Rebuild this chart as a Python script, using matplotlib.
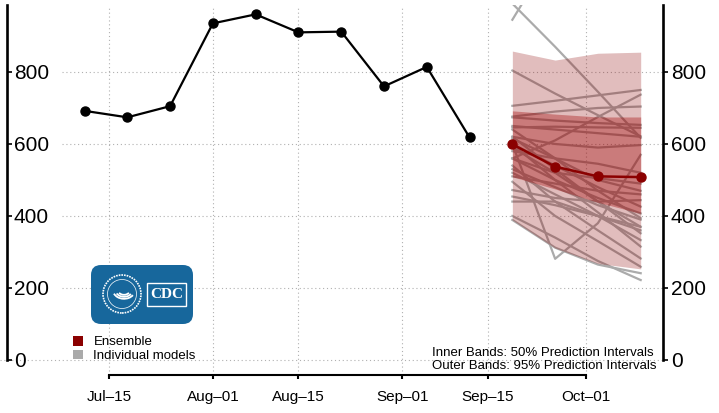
import matplotlib
matplotlib.use('Agg')
import matplotlib.pyplot as plt
import matplotlib.dates as mdates
from matplotlib.patches import FancyBboxPatch, Circle, Rectangle, Patch, Arc
import numpy as np

plt.rcParams['font.family'] = ['Liberation Sans', 'DejaVu Sans']

# observed weekly counts
obs_dates = np.array(['2020-07-11', '2020-07-18', '2020-07-25', '2020-08-01', '2020-08-08',
                      '2020-08-15', '2020-08-22', '2020-08-29', '2020-09-05', '2020-09-12'],
                     dtype='datetime64[D]')
obs_vals = [692, 674, 705, 935, 960, 910, 912, 760, 814, 618]

# ensemble forecast
fc_dates = np.array(['2020-09-19', '2020-09-26', '2020-10-03', '2020-10-10'], dtype='datetime64[D]')
ens_median = [599, 537, 510, 508]
ens_lo95 = [389, 311, 268, 253]
ens_hi95 = [858, 833, 852, 855]
ens_lo50 = [509, 475, 438, 407]
ens_hi50 = [692, 683, 675, 675]

# individual models
models = [
    [990, 870, 745, 617],
    [945, 1140, 1330, 1520],
    [804, 740, 680, 621],
    [706, 720, 735, 750],
    [676, 690, 700, 704],
    [674, 665, 658, 653],
    [646, 648, 646, 645],
    [560, 610, 675, 737],
    [600, 281, 380, 570],
    [620, 600, 590, 597],
    [600, 540, 480, 426],
    [560, 500, 450, 407],
    [640, 560, 470, 394],
    [590, 520, 440, 370],
    [620, 530, 440, 352],
    [520, 460, 400, 333],
    [600, 500, 410, 315],
    [540, 440, 360, 282],
    [495, 400, 330, 259],
    [389, 312, 265, 241],
    [400, 340, 275, 222],
    [472, 450, 440, 444],
    [454, 430, 400, 370],
    [510, 490, 470, 460],
    [580, 560, 545, 520],
    [560, 520, 505, 490],
    [615, 560, 500, 470],
    [530, 480, 430, 390],
    [440, 440, 400, 360],
    [650, 640, 630, 620],
]

tick_dates = np.array(['2020-07-15', '2020-08-01', '2020-08-15', '2020-09-01', '2020-09-15', '2020-10-01'],
                      dtype='datetime64[D]')
tick_labels = ['Jul\u201315', 'Aug\u201301', 'Aug\u201315', 'Sep\u201301', 'Sep\u201315', 'Oct\u201301']
y_ticks = [0, 200, 400, 600, 800]

W, H = 719, 413
fig = plt.figure(figsize=(W / 100, H / 100), dpi=100)
ax = fig.add_axes([7 / W, 38 / H, 656 / W, 370 / H])

t0 = mdates.date2num(tick_dates[0])
t1 = mdates.date2num(tick_dates[-1])
ax.set_xlim(t0 - 16.69, t1 + 12.65)
ymax = 986
ax.set_ylim(-41.7, ymax)

# grid
grid_kw = dict(color='#b0b0b0', linestyle=(0, (1, 2.5)), linewidth=0.8, zorder=0)
ax.hlines(y_ticks[1:], t0 - 7.7, t1 + 12.65, **grid_kw)
ax.hlines([0], t0 - 17.9, t1 + 12.65, clip_on=False, **grid_kw)
ax.vlines(tick_dates, -30, 980, **grid_kw)

# individual models (below the bands)
for m in models:
    ax.plot(fc_dates, m, color='#ababab', lw=1.6, zorder=2)

ax.fill_between(fc_dates, ens_lo95, ens_hi95, color='#8b0000', alpha=0.26, lw=0, zorder=3)
ax.fill_between(fc_dates, ens_lo50, ens_hi50, color='#a00000', alpha=0.35, lw=0, zorder=3)

ax.plot(obs_dates, obs_vals, '-o', color='black', lw=1.6, ms=6.5, zorder=5)
ax.plot(fc_dates, ens_median, '-o', color='#8b0000', lw=1.8, ms=6.5, zorder=5)

# axes styling
ax.spines['top'].set_visible(False)
ax.spines['right'].set_visible(False)
ax.spines['left'].set_linewidth(1.9)
ax.spines['left'].set_bounds(0, ymax)
ax.spines['bottom'].set_linewidth(1.5)
ax.spines['bottom'].set_bounds(t0, t1)

ax.set_xticks(tick_dates)
ax.set_xticklabels(tick_labels)
ax.tick_params(axis='x', direction='out', length=3, width=1.5, pad=7.5, labelsize=11)

ax.set_yticks(y_ticks)
ax.set_yticklabels([str(v) for v in y_ticks])
ax.tick_params(axis='y', direction='in', length=3.5, width=1.2, pad=-5, labelsize=15)
for lab in ax.get_yticklabels():
    lab.set_ha('left')

ax2 = ax.twinx()
ax2.set_ylim(ax.get_ylim())
for s in ['top', 'left', 'bottom']:
    ax2.spines[s].set_visible(False)
ax2.spines['right'].set_linewidth(1.9)
ax2.spines['right'].set_bounds(0, ymax)
ax2.set_yticks(y_ticks)
ax2.set_yticklabels([str(v) for v in y_ticks])
ax2.tick_params(axis='y', direction='out', length=3.5, width=1.2, pad=2, labelsize=15)

# legend
handles = [Patch(facecolor='#8b0000', edgecolor='none'), Patch(facecolor='#aaaaaa', edgecolor='none')]
ax.legend(handles, ['Ensemble', 'Individual models'], loc='upper left',
          bbox_to_anchor=(73 / W, 1 - 336 / H), bbox_transform=fig.transFigure,
          frameon=False, fontsize=9.5, handlelength=0.75, handleheight=0.75,
          handletextpad=0.8, labelspacing=0.1, borderpad=0, borderaxespad=0)

fig.text(432 / W, 1 - 352.7 / H, 'Inner Bands: 50% Prediction Intervals', ha='left', va='center', fontsize=9.5)
fig.text(432 / W, 1 - 366 / H, 'Outer Bands: 95% Prediction Intervals', ha='left', va='center', fontsize=9.5)

# CDC logo
lg = fig.add_axes([91 / W, 1 - 324 / H, 102 / W, 59 / H])
lg.set_xlim(0, 102)
lg.set_ylim(0, 59)
lg.axis('off')
blue = '#17679c'
lg.add_patch(FancyBboxPatch((0, 0), 102, 59, boxstyle='round,pad=0,rounding_size=10',
                            facecolor=blue, edgecolor='none'))
lg.add_patch(Circle((31, 30), 19, facecolor='none', edgecolor='white', lw=1.2, linestyle=(0, (1, 0.6))))
lg.add_patch(Circle((31, 30), 14.5, facecolor='none', edgecolor='white', lw=0.5))
for r, th in [(11, (200, 330)), (8.5, (205, 330)), (6, (210, 330))]:
    lg.add_patch(Arc((33, 34), r * 2, r * 1.6, theta1=th[0], theta2=th[1], color='white', lw=1.3))
lg.add_patch(Rectangle((56, 18), 39, 23, facecolor='none', edgecolor='white', lw=1.0))
lg.text(75.5, 29.5, 'CDC', color='white', ha='center', va='center', fontsize=11,
        fontweight='bold', family='Liberation Serif')

fig.savefig('out.png', dpi=100)
